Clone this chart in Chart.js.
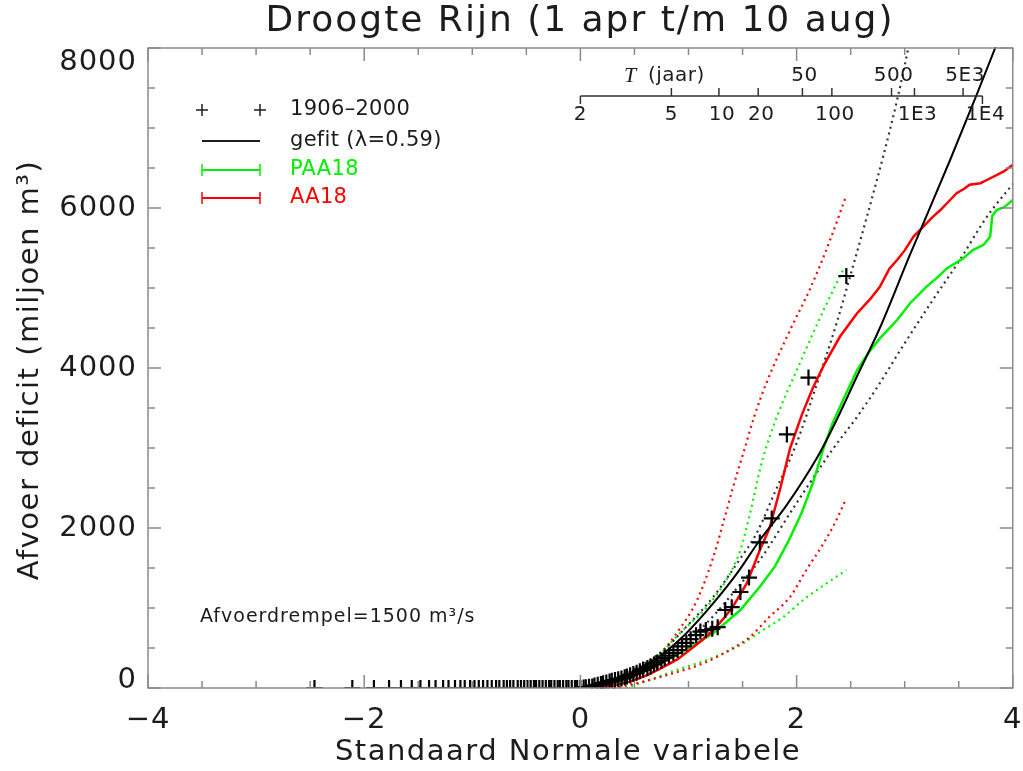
<!DOCTYPE html>
<html>
<head>
<meta charset="utf-8">
<script src="https://cdn.jsdelivr.net/npm/chart.js@4.4.1/dist/chart.umd.min.js"></script>
<style>
  html, body { margin: 0; padding: 0; background: #fff; }
  #wrap { width: 1023px; height: 771px; }
</style>
</head>
<body>
<div id="wrap"><canvas id="c" width="1023" height="771"></canvas></div>
<script>
// Axis ticks
const xTicks = [-4, -2, 0, 2, 4];
const yTicks = [0, 2000, 4000, 6000, 8000];

// Return period axis (jaar), labels below and above the line
const periodBelow = [2, 5, 10, 20, 100, 1000, 10000];
const periodBelowLabels = ['2', '5', '10', '20', '100', '1E3', '1E4'];
const periodAbove = [50, 500, 5000];
const periodAboveLabels = ['50', '500', '5E3'];

// Observed deficits 1906-2000, standard normal plotting positions
const obsZ = [-2.46, -2.11, -1.91, -1.77, -1.66, -1.56, -1.48, -1.40, -1.34, -1.27,
  -1.22, -1.16, -1.11, -1.07, -1.02, -0.98, -0.94, -0.90, -0.86, -0.82,
  -0.78, -0.75, -0.71, -0.68, -0.65, -0.62, -0.58, -0.55, -0.52, -0.49,
  -0.46, -0.43, -0.41, -0.38, -0.35, -0.32, -0.29, -0.27, -0.24, -0.21,
  -0.19, -0.16, -0.13, -0.11, -0.08, -0.05, -0.03, 0.00,
  0.03, 0.05, 0.08, 0.11, 0.13, 0.16, 0.19, 0.21, 0.24, 0.27,
  0.29, 0.32, 0.35, 0.38, 0.41, 0.43, 0.46, 0.49, 0.52, 0.55,
  0.58, 0.62, 0.65, 0.68, 0.71, 0.75, 0.78, 0.82, 0.86, 0.90,
  0.94, 0.98, 1.02, 1.07, 1.11, 1.16, 1.22, 1.27, 1.34, 1.40,
  1.48, 1.56, 1.66, 1.77, 1.91, 2.11, 2.46];
const obsDeficit = [0, 0, 0, 0, 0, 0, 0, 0, 0, 0,
  0, 0, 0, 0, 0, 0, 0, 0, 0, 0,
  0, 0, 0, 0, 0, 0, 0, 0, 0, 0,
  0, 0, 0, 0, 0, 0, 0, 0, 0, 0,
  0, 0, 0, 0, 0, 0, 0, 0,
  5, 10, 15, 20, 30, 40, 50, 60, 70, 80,
  90, 100, 110, 120, 135, 145, 160, 175, 190, 210,
  230, 250, 270, 295, 320, 345, 375, 405, 440, 475,
  520, 565, 610, 660, 705, 725, 740, 760, 975, 1010,
  1200, 1380, 1820, 2120, 3170, 3880, 5150];

// Fitted distribution (lambda = 0.59) and its band, [z, deficit]
const fitCurve = [[0.10, 0], [0.15, 30], [0.30, 100], [0.46, 185], [0.60, 290], [0.77, 435],
  [0.98, 685], [1.23, 1060], [1.45, 1435], [1.66, 1850], [1.90, 2270], [2.19, 2880],
  [2.37, 3350], [2.56, 3900], [2.77, 4500], [3.05, 5420], [3.17, 5800], [3.42, 6600],
  [3.67, 7430], [3.84, 8010], [3.90, 8220]];
const fitUpper = [[0.15, 0], [0.30, 80], [0.46, 200], [0.77, 475], [0.98, 765], [1.23, 1140],
  [1.45, 1560], [1.63, 1935], [1.80, 2450], [2.00, 3060], [2.19, 3810], [2.37, 4560],
  [2.52, 5265], [2.65, 5890], [2.80, 6640], [2.93, 7350], [3.03, 7975], [3.08, 8300]];
const fitLower = [[0.20, 0], [0.46, 120], [0.77, 340], [0.98, 570], [1.23, 900], [1.45, 1250],
  [1.66, 1600], [1.97, 2250], [2.34, 2995], [2.56, 3390], [2.77, 3810], [2.96, 4225],
  [3.26, 4850], [3.51, 5350], [3.76, 5890], [4.00, 6300]];

// AA18 series and range
const aa18 = [[0.18, 0], [0.30, 30], [0.46, 80], [0.62, 160], [0.77, 265], [0.90, 360],
  [1.01, 475], [1.12, 590], [1.23, 725], [1.32, 860], [1.41, 1015], [1.54, 1310],
  [1.66, 1725], [1.75, 2000], [1.85, 2500], [1.94, 3000], [2.05, 3420], [2.15, 3750],
  [2.25, 4030], [2.40, 4390], [2.56, 4685], [2.68, 4860], [2.77, 5015], [2.86, 5245],
  [2.93, 5350], [3.00, 5470], [3.08, 5640], [3.17, 5765], [3.26, 5890], [3.33, 5975],
  [3.42, 6100], [3.48, 6185], [3.55, 6240], [3.60, 6290], [3.70, 6310], [3.76, 6350],
  [3.85, 6410], [3.92, 6460], [4.00, 6540]];
const aa18Upper = [[0.15, 0], [0.30, 110], [0.55, 265], [0.74, 435], [0.89, 685], [1.08, 1100],
  [1.23, 1640], [1.32, 2060], [1.41, 2500], [1.51, 2950], [1.61, 3400], [1.72, 3810],
  [1.94, 4475], [2.12, 4975], [2.31, 5600], [2.46, 6160]];
const aa18Lower = [[0.30, 0], [0.52, 60], [0.86, 185], [1.14, 310], [1.38, 475], [1.57, 640],
  [1.75, 890], [1.94, 1140], [2.09, 1475], [2.25, 1810], [2.35, 2050], [2.46, 2370]];

// PAA18 series and range
const paa18 = [[0.22, 0], [0.35, 60], [0.61, 225], [0.92, 435], [1.23, 685], [1.48, 975],
  [1.66, 1265], [1.80, 1520], [1.93, 1850], [2.05, 2200], [2.15, 2560], [2.25, 3000],
  [2.33, 3300], [2.43, 3600], [2.56, 3975], [2.66, 4180], [2.77, 4370], [2.93, 4600],
  [3.05, 4810], [3.20, 5015], [3.30, 5130], [3.39, 5245], [3.54, 5370], [3.63, 5475],
  [3.73, 5540], [3.79, 5640], [3.81, 5900], [3.85, 5975], [3.92, 6010], [4.00, 6100]];
const paa18Upper = [[0.20, 0], [0.40, 90], [0.66, 320], [0.92, 685], [1.17, 1015], [1.35, 1350],
  [1.48, 1725], [1.57, 2185], [1.66, 2725], [1.72, 3015], [1.85, 3500], [2.03, 4060],
  [2.25, 4725], [2.43, 5225]];
const paa18Lower = [[0.25, 0], [0.43, 15], [0.64, 100], [0.89, 225], [1.17, 350], [1.45, 515],
  [1.69, 725], [1.88, 890], [2.06, 1100], [2.28, 1310], [2.46, 1475]];

const RED = '#ff0000';
const GREEN = '#00f000';
const INK = '#1c1c1c';
const AXIS = '#8a8a8a';
const FONT = '"DejaVu Sans", sans-serif';

const pts = arr => arr.map(p => ({ x: p[0], y: p[1] }));

// inverse standard normal CDF (Acklam)
function normInv(p) {
  const a = [-3.969683028665376e+01, 2.209460984245205e+02, -2.759285104469687e+02, 1.383577518672690e+02, -3.066479806614716e+01, 2.506628277459239e+00];
  const b = [-5.447609879822406e+01, 1.615858368580409e+02, -1.556989798598866e+02, 6.680131188771972e+01, -1.328068155288572e+01];
  const c = [-7.784894002430293e-03, -3.223964580411365e-01, -2.400758277161838e+00, -2.549732539343734e+00, 4.374664141464968e+00, 2.938163982698783e+00];
  const d = [7.784695709041462e-03, 3.224671290700398e-01, 2.445134137142996e+00, 3.754408661907416e+00];
  const pl = 0.02425;
  if (p < pl) {
    const q = Math.sqrt(-2 * Math.log(p));
    return (((((c[0] * q + c[1]) * q + c[2]) * q + c[3]) * q + c[4]) * q + c[5]) / ((((d[0] * q + d[1]) * q + d[2]) * q + d[3]) * q + 1);
  }
  if (p > 1 - pl) {
    const q = Math.sqrt(-2 * Math.log(1 - p));
    return -(((((c[0] * q + c[1]) * q + c[2]) * q + c[3]) * q + c[4]) * q + c[5]) / ((((d[0] * q + d[1]) * q + d[2]) * q + d[3]) * q + 1);
  }
  const q = p - 0.5, r = q * q;
  return (((((a[0] * r + a[1]) * r + a[2]) * r + a[3]) * r + a[4]) * r + a[5]) * q / (((((b[0] * r + b[1]) * r + b[2]) * r + b[3]) * r + b[4]) * r + 1);
}
const periodToZ = T => normInv(1 - 1 / T);

function line(ctx, x0, y0, x1, y1) {
  ctx.beginPath(); ctx.moveTo(x0, y0); ctx.lineTo(x1, y1); ctx.stroke();
}
function cross(ctx, x, y, r) {
  line(ctx, x - r, y, x + r, y);
  line(ctx, x, y - r, x, y + r);
}
function text(ctx, str, x, y, font, spacing) {
  ctx.font = font;
  ctx.letterSpacing = (spacing || 0) + 'px';
  ctx.fillText(str, x, y);
  ctx.letterSpacing = '0px';
}

// frame, ticks, labels, return period axis, legend
const decorations = {
  id: 'decorations',
  afterDatasetsDraw(chart) {
    const ctx = chart.ctx;
    const area = chart.chartArea;
    const xs = chart.scales.x, ys = chart.scales.y;
    ctx.save();

    // frame with inward ticks on all sides
    ctx.strokeStyle = AXIS;
    ctx.lineWidth = 1.5;
    ctx.strokeRect(area.left, area.top, area.right - area.left, area.bottom - area.top);
    for (let v = -4; v <= 4.001; v += 0.5) {
      const px = xs.getPixelForValue(v);
      const len = Math.abs(v % 2) < 1e-6 ? 13 : 7;
      line(ctx, px, area.bottom, px, area.bottom - len);
      line(ctx, px, area.top, px, area.top + len);
    }
    for (let v = 0; v <= 8000; v += 500) {
      const py = ys.getPixelForValue(v);
      const len = v % 2000 === 0 ? 13 : 7;
      line(ctx, area.left, py, area.left + len, py);
      line(ctx, area.right, py, area.right - len, py);
    }

    // tick labels
    ctx.fillStyle = INK;
    ctx.textAlign = 'center';
    ctx.textBaseline = 'middle';
    xTicks.forEach(v => {
      text(ctx, v < 0 ? '\u2212' + Math.abs(v) : String(v), xs.getPixelForValue(v), 720, '29px ' + FONT, 1);
    });
    ctx.textAlign = 'right';
    yTicks.forEach(v => {
      const py = Math.min(Math.max(ys.getPixelForValue(v), area.top + 14), area.bottom - 8);
      text(ctx, String(v), 137, py, '29px ' + FONT, 1);
    });

    // axis titles
    ctx.textAlign = 'center';
    text(ctx, 'Standaard Normale variabele', 568, 752, '29px ' + FONT, 1.5);
    ctx.save();
    ctx.translate(30, 370);
    ctx.rotate(-Math.PI / 2);
    text(ctx, 'Afvoer deficit (miljoen m\u00b3)', 0, 0, '29px ' + FONT, 1.5);
    ctx.restore();

    // title
    text(ctx, 'Droogte Rijn (1 apr t/m 10 aug)', 580, 22, '36px ' + FONT, 2);

    // return period axis
    const ty = 96;
    const tx0 = xs.getPixelForValue(periodToZ(2));
    const tx1 = xs.getPixelForValue(periodToZ(10000));
    ctx.strokeStyle = '#333';
    ctx.lineWidth = 1.5;
    line(ctx, tx0, ty, tx1, ty);
    line(ctx, tx0, ty, tx0, ty + 8);
    line(ctx, tx1, ty, tx1, ty + 8);
    periodBelow.forEach((T, i) => {
      const px = xs.getPixelForValue(periodToZ(T));
      if (i > 0 && i < periodBelow.length - 1) line(ctx, px, ty, px, ty - 8);
      text(ctx, periodBelowLabels[i], px + (periodBelowLabels[i].length > 1 ? 3 : 0), 115, '20px ' + FONT, 0.5);
    });
    periodAbove.forEach((T, i) => {
      const px = xs.getPixelForValue(periodToZ(T));
      line(ctx, px, ty, px, ty - 8);
      text(ctx, periodAboveLabels[i], px + 2, 76, '20px ' + FONT, 0.5);
    });
    text(ctx, 'T', 630, 76, 'italic 22px "Liberation Serif", serif', 0);
    ctx.textAlign = 'left';
    text(ctx, '(jaar)', 648, 76, '20px ' + FONT, 0.5);

    // legend
    const lx0 = 202, lx1 = 260, ltx = 290;
    const rows = [110, 141, 170, 198];
    ctx.lineWidth = 1.5;
    ctx.strokeStyle = INK;
    cross(ctx, lx0, rows[0], 6);
    cross(ctx, lx1, rows[0], 6);
    ctx.fillStyle = INK;
    text(ctx, '1906\u20132000', ltx, rows[0], '21px ' + FONT, 0.3);
    ctx.lineWidth = 2;
    line(ctx, lx0, rows[1], lx1, rows[1]);
    text(ctx, 'gefit (\u03bb=0.59)', ltx, rows[1], '21px ' + FONT, 0.3);
    [[GREEN, 'PAA18', rows[2]], [RED, 'AA18', rows[3]]].forEach(([col, txt, y]) => {
      ctx.strokeStyle = col;
      ctx.lineWidth = 2;
      line(ctx, lx0, y, lx1, y);
      ctx.lineWidth = 1.5;
      line(ctx, lx0, y - 6, lx0, y + 6);
      line(ctx, lx1, y - 6, lx1, y + 6);
      ctx.fillStyle = col;
      text(ctx, txt, ltx, y, '21px ' + FONT, 0.3);
    });

    // threshold note
    ctx.fillStyle = INK;
    text(ctx, 'Afvoerdrempel=1500 m\u00b3/s', 200, 617, '19px ' + FONT, 1);

    ctx.restore();
  }
};

const solid = (data, color, width, order) => ({
  data: pts(data), showLine: true, borderColor: color, borderWidth: width,
  pointRadius: 0, fill: false, tension: 0, clip: 1, order
});
const dotted = (data, color, order) => ({
  data: pts(data), showLine: true, borderColor: color, borderWidth: 2.2,
  borderDash: [2, 4], borderCapStyle: 'butt', pointRadius: 0, fill: false,
  cubicInterpolationMode: 'monotone', clip: 1, order
});

new Chart(document.getElementById('c').getContext('2d'), {
  type: 'scatter',
  data: {
    datasets: [
      {
        label: '1906-2000',
        data: obsZ.map((z, i) => ({ x: z, y: obsDeficit[i] })),
        pointStyle: 'cross', pointRadius: 8, pointBorderWidth: 2.2,
        borderColor: '#000', backgroundColor: '#000', showLine: false, clip: 0, order: 0
      },
      Object.assign(solid(fitCurve, '#000', 2, 1), { cubicInterpolationMode: 'monotone' }),
      solid(aa18, RED, 2.5, 2),
      solid(paa18, GREEN, 2.5, 3),
      dotted(fitUpper, '#333', 4),
      dotted(fitLower, '#333', 5),
      dotted(aa18Upper, RED, 6),
      dotted(aa18Lower, RED, 7),
      dotted(paa18Upper, GREEN, 8),
      dotted(paa18Lower, GREEN, 9)
    ]
  },
  options: {
    responsive: false,
    devicePixelRatio: 1,
    animation: false,
    layout: { padding: { left: 148, right: 10, top: 48, bottom: 83 } },
    plugins: { legend: { display: false }, title: { display: false }, tooltip: { enabled: false } },
    scales: {
      x: { type: 'linear', min: -4, max: 4, display: false },
      y: { type: 'linear', min: 0, max: 8000, display: false }
    }
  },
  plugins: [decorations]
});
</script>
</body>
</html>
